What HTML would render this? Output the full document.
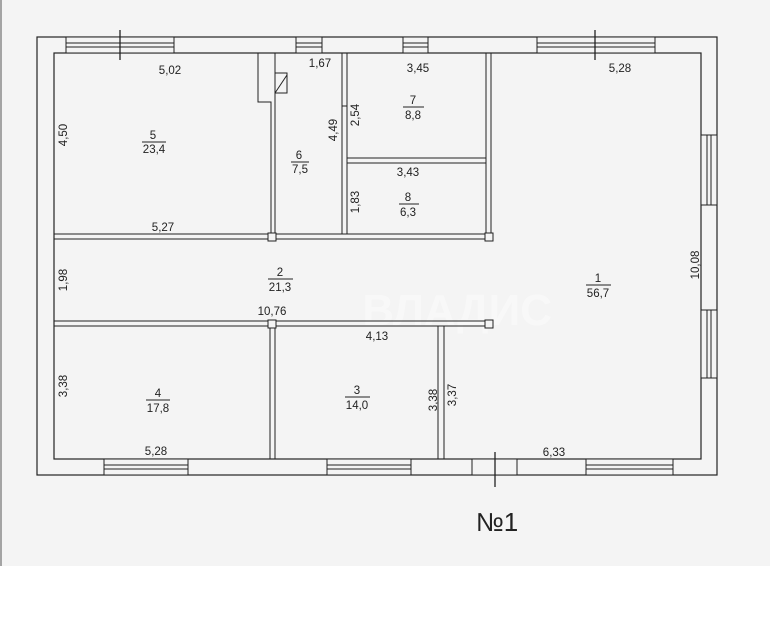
<!DOCTYPE html>
<html><head><meta charset="utf-8"><style>
html,body{margin:0;padding:0;background:#fff;}
svg{display:block;}
text{font-family:"Liberation Sans",sans-serif;font-size:11.5px;fill:#222;}
</style></head><body>
<svg width="770" height="626" viewBox="0 0 770 626" xmlns="http://www.w3.org/2000/svg">
<rect x="0" y="0" width="770" height="566" fill="#f4f4f4"/>
<line x1="1" y1="0" x2="1" y2="566" stroke="#555" stroke-width="1"/>
<text x="552" y="325" style="font-size:44px;fill:#f8f8f8;font-weight:bold" text-anchor="end">ВЛАДИС</text>
<g fill="none" stroke="#222" stroke-width="1.2">
<rect x="37" y="37" width="680" height="438"/>
<rect x="54" y="53" width="647" height="406"/>
</g>
<g stroke="#222" stroke-width="1">
<rect x="66" y="37" width="108" height="16" fill="#f4f4f4"/>
<line x1="66" y1="43" x2="174" y2="43"/><line x1="66" y1="47" x2="174" y2="47"/>
<line x1="120" y1="30" x2="120" y2="60" stroke-width="1.3"/>
<rect x="296" y="37" width="26" height="16" fill="#f4f4f4"/>
<line x1="296" y1="43" x2="322" y2="43"/><line x1="296" y1="47" x2="322" y2="47"/>
<rect x="403" y="37" width="25" height="16" fill="#f4f4f4"/>
<line x1="403" y1="43" x2="428" y2="43"/><line x1="403" y1="47" x2="428" y2="47"/>
<rect x="537" y="37" width="118" height="16" fill="#f4f4f4"/>
<line x1="537" y1="43" x2="655" y2="43"/><line x1="537" y1="47" x2="655" y2="47"/>
<line x1="595" y1="30" x2="595" y2="60" stroke-width="1.3"/>
<rect x="701" y="135" width="16" height="70" fill="#f4f4f4"/>
<line x1="707" y1="135" x2="707" y2="205"/><line x1="711" y1="135" x2="711" y2="205"/>
<rect x="701" y="310" width="16" height="68" fill="#f4f4f4"/>
<line x1="707" y1="310" x2="707" y2="378"/><line x1="711" y1="310" x2="711" y2="378"/>
<rect x="104" y="459" width="84" height="16" fill="#f4f4f4"/>
<line x1="104" y1="465" x2="188" y2="465"/><line x1="104" y1="469" x2="188" y2="469"/>
<rect x="327" y="459" width="84" height="16" fill="#f4f4f4"/>
<line x1="327" y1="465" x2="411" y2="465"/><line x1="327" y1="469" x2="411" y2="469"/>
<rect x="586" y="459" width="87" height="16" fill="#f4f4f4"/>
<line x1="586" y1="465" x2="673" y2="465"/><line x1="586" y1="469" x2="673" y2="469"/>
<rect x="472" y="459" width="45" height="16" fill="#f4f4f4"/>
<line x1="495" y1="452" x2="495" y2="487" stroke-width="1.3"/>
<path d="M258 53 V102 H271 V240 M275 53 V240" fill="none"/>
<rect x="275" y="73" width="12" height="20" fill="none"/>
<line x1="275" y1="93" x2="287" y2="75"/>
<rect x="342" y="53" width="5" height="181" fill="none"/>
<rect x="486" y="53" width="5" height="181" fill="none"/>
<rect x="347" y="158" width="139" height="5" fill="none"/>
<rect x="54" y="234" width="437" height="5" fill="none"/>
<rect x="54" y="321" width="437" height="5" fill="none"/>
<rect x="268" y="233" width="8" height="8" fill="#f4f4f4"/>
<rect x="485" y="233" width="8" height="8" fill="#f4f4f4"/>
<rect x="268" y="320" width="8" height="8" fill="#f4f4f4"/>
<rect x="485" y="320" width="8" height="8" fill="#f4f4f4"/>
<rect x="270" y="328" width="5" height="131" fill="none"/>
<rect x="438" y="326" width="6" height="133" fill="none"/>
<line x1="342" y1="106" x2="347" y2="106"/>
</g>
<g text-anchor="middle">
<text x="170" y="74">5,02</text>
<text x="320" y="67">1,67</text>
<text x="418" y="72">3,45</text>
<text x="620" y="72">5,28</text>
<text x="153" y="139">5</text><line x1="142" y1="142" x2="166" y2="142" stroke="#222"/><text x="154" y="153">23,4</text>
<text x="299" y="159">6</text><line x1="291" y1="162" x2="309" y2="162" stroke="#222"/><text x="300" y="173">7,5</text>
<text x="413" y="104">7</text><line x1="403" y1="107" x2="424" y2="107" stroke="#222"/><text x="413" y="119">8,8</text>
<text x="408" y="176">3,43</text>
<text x="408" y="201">8</text><line x1="399" y1="204" x2="419" y2="204" stroke="#222"/><text x="408" y="216">6,3</text>
<text x="163" y="231">5,27</text>
<text x="280" y="276">2</text><line x1="268" y1="279" x2="293" y2="279" stroke="#222"/><text x="280" y="291">21,3</text>
<text x="272" y="315">10,76</text>
<text x="598" y="282">1</text><line x1="586" y1="285" x2="611" y2="285" stroke="#222"/><text x="598" y="297">56,7</text>
<text x="377" y="340">4,13</text>
<text x="158" y="397">4</text><line x1="146" y1="400" x2="170" y2="400" stroke="#222"/><text x="158" y="412">17,8</text>
<text x="357" y="394">3</text><line x1="345" y1="397" x2="370" y2="397" stroke="#222"/><text x="357" y="409">14,0</text>
<text x="156" y="455">5,28</text>
<text x="554" y="456">6,33</text>
<text transform="translate(67,135) rotate(-90)">4,50</text>
<text transform="translate(337,130) rotate(-90)">4,49</text>
<text transform="translate(359,115) rotate(-90)">2,54</text>
<text transform="translate(359,202) rotate(-90)">1,83</text>
<text transform="translate(67,280) rotate(-90)">1,98</text>
<text transform="translate(699,265) rotate(-90)">10,08</text>
<text transform="translate(67,386) rotate(-90)">3,38</text>
<text transform="translate(437,400) rotate(-90)">3,38</text>
<text transform="translate(456,395) rotate(-90)">3,37</text>
<text x="497" y="531" style="font-size:26px">№1</text>
</g>
</svg>
</body></html>
